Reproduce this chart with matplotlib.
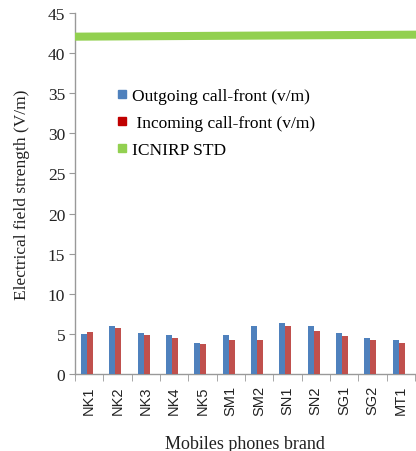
import matplotlib
matplotlib.use("Agg")
import matplotlib.pyplot as plt
import numpy as np
from matplotlib.lines import Line2D

brands = ["NK1", "NK2", "NK3", "NK4", "NK5", "SM1", "SM2", "SN1", "SN2", "SG1", "SG2", "MT1"]
outgoing = [5.0, 6.0, 5.1, 4.8, 3.9, 4.8, 6.0, 6.3, 6.0, 5.1, 4.5, 4.2]
incoming = [5.2, 5.7, 4.8, 4.5, 3.8, 4.2, 4.2, 6.0, 5.3, 4.7, 4.2, 3.9]
icnirp_std = [42.05, 42.3]
yticks = [0, 5, 10, 15, 20, 25, 30, 35, 40, 45]

blue = "#4F81BD"
red = "#C0504D"
green = "#92D050"
serif = "Liberation Serif"
sans = "Liberation Sans"

fig = plt.figure(figsize=(4.16, 4.52), dpi=100)
ax = fig.add_axes([75/416, 77/452, 340/416, 361/452])

x = np.arange(len(brands))
w = 0.21
off = -0.08
ax.bar(x + off - w/2, outgoing, width=w, color=blue, zorder=3)
ax.bar(x + off + w/2, incoming, width=w, color=red, zorder=3)
ax.plot([-0.5, 11.55], icnirp_std, color=green, lw=5.8, solid_capstyle="butt", zorder=4, clip_on=False)

ax.set_xlim(-0.5, 11.5)
ax.set_ylim(0, 45)
ax.set_yticks(yticks)
ax.set_yticklabels([str(t) for t in yticks], fontfamily=serif, fontsize=12.5, color="#222222")
ax.set_xticks(x)
ax.set_xticklabels(brands, rotation=90, fontfamily=sans, fontsize=10.5, color="#222222")
ax.tick_params(axis="x", length=0, pad=8)
ax.set_xticks(np.arange(-0.5, 12, 1), minor=True)
ax.tick_params(axis="x", which="minor", length=5, color="#999999", direction="out")
ax.tick_params(axis="y", length=4, color="#999999", direction="out", pad=3)

for s in ["top", "right"]:
    ax.spines[s].set_visible(False)
for s in ["left", "bottom"]:
    ax.spines[s].set_color("#999999")
    ax.spines[s].set_linewidth(1.0)

ax.set_ylabel("Electrical field strength (V/m)", fontfamily=serif, fontsize=12.5, labelpad=13, color="#222222")
ax.set_xlabel("Mobiles phones brand", fontfamily=serif, fontsize=13, labelpad=14, color="#222222")

handles = [
    Line2D([], [], marker="s", ls="", color=blue, markersize=6),
    Line2D([], [], marker="s", ls="", color="#C00000", markersize=6),
    Line2D([], [], marker="s", ls="", color=green, markersize=6),
]
labels = ["Outgoing call-front (v/m)", " Incoming call-front (v/m)", "ICNIRP STD"]
leg = fig.legend(handles, labels, loc="upper left", bbox_to_anchor=(108/416, 1 - 82/452),
                 frameon=False, prop={"family": serif, "size": 12.5},
                 handlelength=0.8, handletextpad=0.2, labelspacing=0.62, borderaxespad=0)

fig.savefig("out.png", dpi=100)
